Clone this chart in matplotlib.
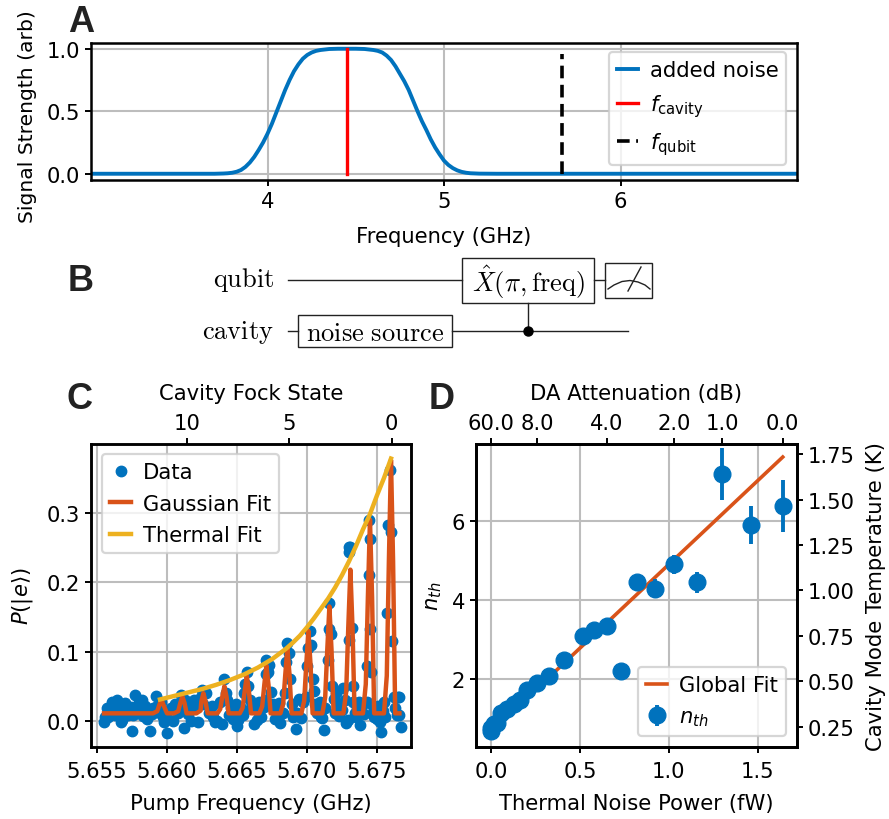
import matplotlib
matplotlib.use('Agg')
import matplotlib.pyplot as plt
from matplotlib.patches import Rectangle

BLUE = '#0072BD'
ORANGE = '#D95319'
YELLOW = '#EDB120'

# panel A
noise_x = [3.0, 3.7, 3.75, 3.775, 3.8, 3.825, 3.85, 3.875, 3.9, 3.925, 3.95, 3.975, 4.0, 4.025, 4.05, 4.075, 4.1, 4.125,
           4.15, 4.175, 4.2, 4.225, 4.25, 4.275, 4.3, 4.35, 4.4, 4.45, 4.5, 4.55, 4.6, 4.625, 4.65, 4.675, 4.7, 4.725,
           4.75, 4.775, 4.8, 4.825, 4.85, 4.875, 4.9, 4.925, 4.95, 4.975, 5.0, 5.025, 5.05, 5.075, 5.1, 5.125, 5.15,
           5.2, 5.3, 7.0]
noise_y = [0, 0, 0.002, 0.004, 0.008, 0.016, 0.03, 0.055, 0.09, 0.135, 0.19, 0.25, 0.32, 0.40, 0.49, 0.58, 0.67, 0.75,
           0.82, 0.875, 0.92, 0.95, 0.97, 0.983, 0.99, 0.998, 1, 1, 1, 0.998, 0.99, 0.983, 0.97, 0.945, 0.91, 0.86,
           0.80, 0.74, 0.67, 0.585, 0.50, 0.42, 0.35, 0.275, 0.21, 0.155, 0.105, 0.07, 0.045, 0.027, 0.015, 0.008, 0.004,
           0.001, 0, 0]
f_cavity = 4.45
f_qubit = 5.67
f_qubit_top = 0.96

# panel C
data_x = [5.6555, 5.6556, 5.6557, 5.6558, 5.6559, 5.656, 5.6561, 5.6562, 5.6563, 5.6564, 5.6565, 5.6566, 5.6567, 5.6568,
          5.6569, 5.657, 5.6571, 5.6572, 5.6573, 5.6574, 5.6575, 5.6576, 5.6577, 5.6578, 5.6579, 5.658, 5.6581, 5.6582,
          5.6583, 5.6584, 5.6585, 5.6586, 5.6588, 5.6589, 5.659, 5.6592, 5.6593, 5.6595, 5.6596, 5.6597, 5.6598, 5.66,
          5.6601, 5.6603, 5.6604, 5.6606, 5.6608, 5.661, 5.6611, 5.6612, 5.6613, 5.6615, 5.6617, 5.6618, 5.6619, 5.6621,
          5.6622, 5.6624, 5.6625, 5.6626, 5.6628, 5.663, 5.6632, 5.6633, 5.6634, 5.6636, 5.6638, 5.6639, 5.6641, 5.6642,
          5.6643, 5.6644, 5.6646, 5.6647, 5.6649, 5.665, 5.6651, 5.6653, 5.6654, 5.6655, 5.6656, 5.6657, 5.6658, 5.6659,
          5.666, 5.6662, 5.6664, 5.6665, 5.6666, 5.6667, 5.6669, 5.667, 5.6671, 5.6671, 5.6672, 5.6673, 5.6674, 5.6676,
          5.6677, 5.6678, 5.668, 5.6681, 5.6683, 5.6684, 5.6685, 5.6686, 5.6687, 5.6688, 5.6689, 5.669, 5.6692, 5.6693,
          5.6694, 5.6696, 5.6697, 5.6699, 5.67, 5.6701, 5.6702, 5.6703, 5.6704, 5.6705, 5.6706, 5.6707, 5.6709, 5.671,
          5.6711, 5.6712, 5.6713, 5.6715, 5.6716, 5.6716, 5.6717, 5.6718, 5.6719, 5.672, 5.6721, 5.6722, 5.6723, 5.6725,
          5.6726, 5.6727, 5.6728, 5.6729, 5.673, 5.673, 5.673, 5.6731, 5.6732, 5.6733, 5.6733, 5.6734, 5.6735, 5.6736,
          5.6737, 5.6738, 5.674, 5.6741, 5.6743, 5.6743, 5.6744, 5.6744, 5.6745, 5.6745, 5.6746, 5.6747, 5.6747, 5.6748,
          5.6749, 5.675, 5.6751, 5.6752, 5.6753, 5.6754, 5.6755, 5.6756, 5.6757, 5.6758, 5.6759, 5.676, 5.6761, 5.6762,
          5.6763, 5.6764, 5.6765, 5.6766, 5.6766, 5.6767]
data_y = [-0.002, 0.006, 0.018, 0.005, 0.012, 0.019, 0.027, 0.015, 0.008, 0.03, 0.022, 0.012, -0.002, 0.001,
          0.016, 0.026, 0.018, 0.008, 0.012, 0.02, -0.014, 0.009, 0.037, 0.02, 0.012, 0.028, 0.017, 0.03,
          0.007, 0.022, 0.012, 0.003, -0.014, 0.01, 0.018, 0.036, 0.022, 0.012, 0.028, 0.005, -0.002, -0.018,
          0.003, 0.018, 0.0, 0.025, 0.012, 0.037, 0.02, -0.01, 0.03, 0.01, 0.0, 0.018, 0.03, 0.02,
          -0.001, 0.035, 0.045, 0.025, 0.04, 0.012, 0.022, 0.005, -0.002, 0.0, 0.028, -0.005, 0.061, 0.04,
          0.03, 0.008, 0.018, 0.003, 0.025, -0.007, 0.001, 0.018, 0.008, 0.04, 0.053, 0.07, 0.05, 0.03,
          0.018, -0.005, 0.002, 0.015, 0.028, 0.005, 0.02, 0.03, 0.068, 0.088, 0.07, 0.08, 0.042, 0.024,
          0.003, 0.018, 0.026, -0.003, 0.011, 0.04, 0.085, 0.113, 0.098, 0.06, 0.024, 0.005, -0.011, 0.012,
          0.032, 0.004, 0.028, 0.035, 0.079, 0.105, 0.13, 0.11, 0.061, 0.043, 0.025, 0.012, 0.028, 0.006,
          0.004, -0.013, 0.018, 0.088, 0.133, 0.17, 0.126, 0.05, 0.032, 0.012, 0.04, 0.025, 0.007, 0.016,
          0.048, 0.03, -0.003, 0.002, 0.117, 0.25, 0.243, 0.25, 0.134, 0.05, 0.028, 0.012, 0.005, 0.02,
          0.027, -0.006, 0.024, 0.01, 0.028, 0.079, 0.21, 0.29, 0.262, 0.133, 0.07, 0.022, 0.012, 0.005,
          0.018, 0.003, 0.022, -0.002, -0.016, 0.015, 0.027, 0.006, 0.155, 0.283, 0.362, 0.272, 0.115, 0.035,
          0.018, 0.008, 0.035, 0.008, 0.035, -0.009]
gauss_x = [5.6555, 5.659, 5.6593, 5.65945, 5.6596, 5.65975, 5.66, 5.6605, 5.6608, 5.66095, 5.6611, 5.66125, 5.6614,
           5.6621, 5.6624, 5.66245, 5.6626, 5.66275, 5.6629, 5.6636, 5.6638, 5.66395, 5.6641, 5.66425, 5.6644, 5.6652,
           5.6654, 5.66555, 5.6657, 5.66585, 5.6660, 5.6666, 5.6668, 5.66695, 5.6671, 5.66725, 5.6674, 5.6681, 5.6683,
           5.66845, 5.6686, 5.66875, 5.6689, 5.6696, 5.6698, 5.66995, 5.6701, 5.67025, 5.6704, 5.6711, 5.6713, 5.67145,
           5.6716, 5.67175, 5.6719, 5.6726, 5.6728, 5.67295, 5.6731, 5.67325, 5.6734, 5.674, 5.6742, 5.67435, 5.6745,
           5.67465, 5.6748, 5.6755, 5.6757, 5.67585, 5.676, 5.67615, 5.6763, 5.6766]
gauss_y = [0.011, 0.011, 0.014, 0.023, 0.031, 0.023, 0.011, 0.011, 0.014, 0.026, 0.035, 0.026, 0.011,
           0.011, 0.015, 0.028, 0.04, 0.028, 0.011, 0.011, 0.017, 0.035, 0.05, 0.035, 0.011, 0.011,
           0.019, 0.043, 0.065, 0.043, 0.011, 0.011, 0.021, 0.052, 0.08, 0.052, 0.011, 0.011, 0.025,
           0.067, 0.105, 0.067, 0.011, 0.011, 0.029, 0.082, 0.13, 0.082, 0.011, 0.011, 0.034, 0.103,
           0.165, 0.103, 0.011, 0.011, 0.042, 0.135, 0.218, 0.135, 0.011, 0.011, 0.053, 0.178, 0.29,
           0.178, 0.011, 0.011, 0.065, 0.23, 0.376, 0.23, 0.011, 0.011]
thermal_x = [5.6595, 5.6605, 5.6615, 5.6625, 5.6635, 5.6645, 5.6655, 5.6665, 5.6675, 5.6685, 5.669, 5.6695, 5.67, 5.6705,
             5.671, 5.6715, 5.672, 5.6725, 5.673, 5.6735, 5.674, 5.6745, 5.675, 5.6755, 5.676]
thermal_y = [0.031, 0.036, 0.041, 0.046, 0.052, 0.059, 0.067, 0.077, 0.089, 0.104, 0.113, 0.123, 0.135, 0.148,
             0.162, 0.176, 0.192, 0.21, 0.23, 0.252, 0.276, 0.298, 0.325, 0.35, 0.378]
fock_ticks_x = [5.67605, 5.66875, 5.66145]
fock_labels = ['0', '5', '10']

# panel D
power = [1.64, 1.46, 1.30, 1.16, 1.03, 0.92, 0.82, 0.73, 0.65, 0.58, 0.515, 0.41, 0.325, 0.26, 0.205, 0.165, 0.13, 0.09,
         0.055, 0.035, 0.015, 0.0, 0.0]
nth = [6.37, 5.9, 7.2, 4.45, 4.9, 4.29, 4.45, 2.2, 3.35, 3.23, 3.1, 2.47, 2.08, 1.9, 1.73, 1.47, 1.37, 1.24,
       1.15, 0.9, 0.85, 0.77, 0.68]
nth_err = [0.66, 0.48, 0.66, 0.27, 0.25, 0.25, 0.1, 0.05, 0.1, 0.08, 0.08, 0.06, 0.05, 0.04, 0.04, 0.03, 0.03, 0.02,
           0.02, 0.02, 0.02, 0.02, 0.02]
fit_x = [0.0, 0.41, 0.82, 1.23, 1.64]
fit_y = [0.66, 2.40, 4.14, 5.88, 7.62]
da_ticks_x = [0.0, 0.26, 0.65, 1.03, 1.30, 1.64]
da_labels = ['60.0', '8.0', '4.0', '2.0', '1.0', '0.0']
temp_ticks = [0.25, 0.5, 0.75, 1.0, 1.25, 1.5, 1.75]

W, H = 889, 820
plt.rcParams['font.size'] = 15.2
plt.rcParams['axes.linewidth'] = 1.8
plt.rcParams['xtick.major.width'] = 1.4
plt.rcParams['ytick.major.width'] = 1.4
plt.rcParams['xtick.major.size'] = 4.5
plt.rcParams['ytick.major.size'] = 4.5
plt.rcParams['grid.color'] = '#bdbdbd'
plt.rcParams['grid.linewidth'] = 1.5
plt.rcParams['legend.edgecolor'] = '#cccccc'
plt.rcParams['patch.linewidth'] = 1.6
plt.rcParams['mathtext.fontset'] = 'dejavusans'

fig = plt.figure(figsize=(W / 100, H / 100), dpi=100)


def px_axes(left, top, right, bottom):
    return fig.add_axes([left / W, 1 - bottom / H, (right - left) / W, (bottom - top) / H])


# A
ax_a = px_axes(91, 43.5, 797, 181)
ax_a.plot(noise_x, noise_y, color=BLUE, lw=2.8, label='added noise')
ax_a.plot([f_cavity, f_cavity], [0, 1], color='red', lw=2.4, label=r'$f_{\mathrm{cavity}}$')
ax_a.plot([f_qubit, f_qubit], [0, f_qubit_top], color='k', lw=2.6, ls=(0, (3.5, 1.8)), label=r'$f_{\mathrm{qubit}}$')
ax_a.set_xlim(3.0, 7.0)
ax_a.set_ylim(-0.05, 1.05)
ax_a.set_xticks([4, 5, 6])
ax_a.set_yticks([0, 0.5, 1.0])
ax_a.grid(True)
ax_a.set_axisbelow(True)
ax_a.set_xlabel('Frequency (GHz)', labelpad=11)
ax_a.set_ylabel('Signal Strength (arb)', labelpad=7, fontsize=14.6, y=0.47)
ax_a.legend(loc='upper right', bbox_to_anchor=(0.985, 0.93), borderaxespad=0, handlelength=1.0, labelspacing=0.55,
            handletextpad=0.55, borderpad=0.38)

# C
ax_c = px_axes(91, 445, 411, 748)
ax_c.plot(data_x, data_y, 'o', color=BLUE, ms=7.5, label='Data', zorder=2)
ax_c.plot(gauss_x, gauss_y, color=ORANGE, lw=3.2, label='Gaussian Fit', zorder=3)
ax_c.plot(thermal_x, thermal_y, color=YELLOW, lw=3.2, label='Thermal Fit', zorder=4)
ax_c.set_xlim(5.65457, 5.67743)
ax_c.set_ylim(-0.0375, 0.399)
ax_c.set_xticks([5.655, 5.66, 5.665, 5.67, 5.675])
ax_c.set_xticklabels(['5.655', '5.660', '5.665', '5.670', '5.675'])
ax_c.set_yticks([0.0, 0.1, 0.2, 0.3])
ax_c.tick_params(axis='x', pad=5.5)
ax_c.grid(True)
ax_c.set_axisbelow(True)
ax_c.set_xlabel('Pump Frequency (GHz)', labelpad=9)
ax_c.set_ylabel(r'$P(|e\rangle)$', labelpad=8)
ax_c.legend(loc='upper left', bbox_to_anchor=(0.035, 0.967), borderaxespad=0, handlelength=1.0, labelspacing=0.55,
            handletextpad=0.55, borderpad=0.38)
top_c = ax_c.twiny()
top_c.set_xlim(ax_c.get_xlim())
top_c.set_xticks(fock_ticks_x)
top_c.set_xticklabels(fock_labels)
top_c.set_xlabel('Cavity Fock State', labelpad=10)

# D
ax_d = px_axes(476, 445, 797, 748)
ax_d.plot(fit_x, fit_y, color=ORANGE, lw=2.6, label='Global Fit', zorder=2)
ax_d.errorbar(power, nth, yerr=nth_err, fmt='o', color=BLUE, ms=12, elinewidth=2.8, label=r'$n_{th}$', zorder=3)
ax_d.set_xlim(-0.084, 1.72)
ax_d.set_ylim(0.28, 7.95)
ax_d.set_xticks([0.0, 0.5, 1.0, 1.5])
ax_d.set_yticks([2, 4, 6])
ax_d.tick_params(axis='x', pad=5.5)
ax_d.grid(True)
ax_d.set_axisbelow(True)
ax_d.set_xlabel('Thermal Noise Power (fW)', labelpad=9)
ax_d.set_ylabel(r'$n_{th}$', labelpad=5)
ax_d.legend(loc='lower right', bbox_to_anchor=(0.965, 0.035), borderaxespad=0, handlelength=1.0, labelspacing=0.55,
            handletextpad=0.55, borderpad=0.38)
top_d = ax_d.twiny()
top_d.set_xlim(ax_d.get_xlim())
top_d.set_xticks(da_ticks_x)
top_d.set_xticklabels(da_labels)
top_d.set_xlabel('DA Attenuation (dB)', labelpad=10)
right_d = ax_d.twinx()
right_d.set_ylim(0.14, 1.805)
right_d.set_yticks(temp_ticks)
right_d.set_yticklabels(['0.25', '0.50', '0.75', '1.00', '1.25', '1.50', '1.75'])
right_d.set_ylabel('Cavity Mode Temperature (K)', labelpad=8)

# B circuit, drawn in picture pixels
ax_b = fig.add_axes([0, 0, 1, 1], zorder=-1)
ax_b.set_xlim(0, W)
ax_b.set_ylim(H, 0)
ax_b.axis('off')
wire = dict(color='#222222', lw=1.0)
ax_b.plot([288, 462], [281, 281], **wire)
ax_b.plot([594, 605], [281, 281], **wire)
ax_b.plot([288, 298], [332, 332], **wire)
ax_b.plot([452, 628], [332, 332], **wire)
ax_b.plot([528, 528], [304, 332], **wire)
ax_b.plot([528], [332], 'o', color='k', ms=6.5)
for x0, y0, x1, y1 in [(462, 259, 594, 304), (298, 316, 452, 348), (605, 264, 652, 299)]:
    ax_b.add_patch(Rectangle((x0, y0), x1 - x0, y1 - y0, fc='white', ec='#222222', lw=1.0))
ax_b.plot([608, 614, 622, 630, 638, 645, 650], [290, 286, 282.5, 281.5, 283, 286, 290], **wire)
ax_b.plot([628, 641], [292, 268], **wire)
for txt, x, y, ha in [(r'$\mathrm{qubit}$', 274, 280, 'right'), (r'$\mathrm{cavity}$', 274, 333, 'right'),
                      (r'$\mathrm{noise\ source}$', 375, 334, 'center'), (r'$\hat{X}(\pi,\mathrm{freq})$', 528, 282, 'center')]:
    ax_b.text(x, y, txt, ha=ha, va='center', fontsize=19, math_fontfamily='cm')

for letter, x, y in [('A', 68, 23), ('B', 68, 282), ('C', 67, 400), ('D', 429, 400)]:
    fig.text(x / W, 1 - y / H, letter, fontsize=26, fontweight='bold', family='Liberation Sans', va='center', ha='left',
             color='#222222')

fig.savefig('out.png', dpi=100)
